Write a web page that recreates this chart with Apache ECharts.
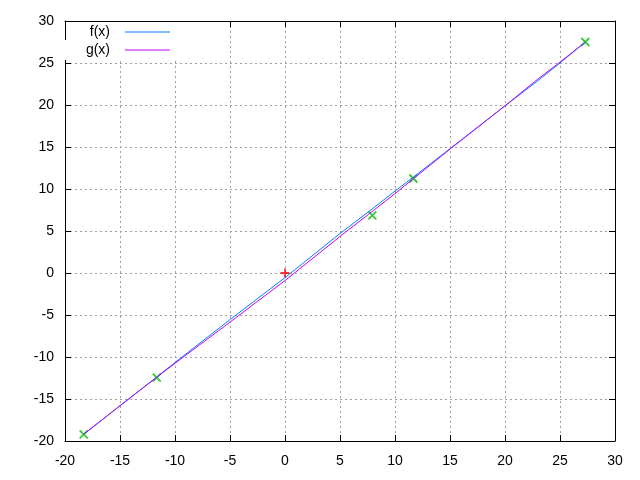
<!DOCTYPE html>
<html>
<head>
<meta charset="utf-8">
<script src="https://cdn.jsdelivr.net/npm/echarts@6/dist/echarts.min.js"></script>
<style>html,body{margin:0;padding:0;background:#fff}#c{width:640px;height:480px}</style>
</head>
<body>
<div id="c"></div>
<script>
const lineX = [-18.3, -15, -11.7, -10, -5, 0, 5, 8, 10, 11.7, 15, 20, 23, 25, 27.3];
const fVals = [-19.2, -15.8, -12.42, -10.65, -5.55, -0.55, 4.7, 7.7, 9.75, 11.45, 14.8, 19.9, 22.9, 25.0, 27.5];
const gVals = [-19.2, -15.8, -12.45, -10.75, -5.85, -0.9, 4.35, 7.4, 9.45, 11.25, 14.75, 19.9, 23.1, 25.1, 27.5];
const greenX = [-18.3, -11.66, 7.94, 11.67, 27.3];
const greenY = [-19.2, -12.46, 6.86, 11.25, 27.5];
const redX = [0];
const redY = [0];
const seriesNames = ['f(x)', 'g(x)'];
const axisMin = -20, axisMax = 30, axisStep = 5;

const FONT = 'Liberation Sans';
const zip = (a, b) => a.map((v, i) => [v, b[i]]);
const chart = echarts.init(document.getElementById('c'), null, {renderer: 'canvas'});

const gridLine = {show: true, lineStyle: {color: '#a0a0a0', type: [2, 3], width: 1}};
const axLine = {show: true, onZero: false, lineStyle: {color: '#000', width: 1}};
const tick = {show: true, inside: true, length: 6, lineStyle: {color: '#000'}};

function legendFor(name, top) {
  return {
    data: [{name: name, icon: 'rect'}], orient: 'vertical', align: 'right', right: 455, top: top,
    itemWidth: 45, itemHeight: 1, backgroundColor: '#fff',
    padding: [3, 15, 3, 22],
    textStyle: {fontFamily: FONT, fontSize: 14, color: '#000', padding: [0, 10, 0, 0]}
  };
}

chart.setOption({
  animation: false,
  grid: {left: 65, right: 25, top: 21, bottom: 39},
  legend: [legendFor(seriesNames[0], 22), legendFor(seriesNames[1], 40)],
  xAxis: [
    {type: 'value', min: axisMin, max: axisMax, interval: axisStep, position: 'bottom',
     axisLine: axLine, axisTick: tick, splitLine: gridLine,
     axisLabel: {fontFamily: FONT, fontSize: 14, color: '#000', margin: 13}},
    {type: 'value', min: axisMin, max: axisMax, interval: axisStep, position: 'top',
     axisLine: axLine, axisTick: tick, splitLine: {show: false}, axisLabel: {show: false}}
  ],
  yAxis: [
    {type: 'value', min: axisMin, max: axisMax, interval: axisStep, position: 'left',
     axisLine: axLine, axisTick: tick, splitLine: gridLine,
     axisLabel: {fontFamily: FONT, fontSize: 14, color: '#000', margin: 11}},
    {type: 'value', min: axisMin, max: axisMax, interval: axisStep, position: 'right',
     axisLine: axLine, axisTick: tick, splitLine: {show: false}, axisLabel: {show: false}}
  ],
  series: [
    {type: 'scatter', name: 'pts1', data: zip(redX, redY),
     symbol: 'path://M5,0L5,10M0,5L10,5', symbolSize: 9,
     itemStyle: {color: 'rgba(0,0,0,0)', borderColor: '#ff0000', borderWidth: 1.8}},
    {type: 'scatter', name: 'pts2', data: zip(greenX, greenY),
     symbol: 'path://M0,0L10,10M10,0L0,10', symbolSize: 8,
     itemStyle: {color: 'rgba(0,0,0,0)', borderColor: '#00c000', borderWidth: 1.8}},
    {type: 'line', name: seriesNames[0], data: zip(lineX, fVals), symbol: 'none',
     lineStyle: {color: '#0080ff', width: 1}, itemStyle: {color: '#0080ff'}},
    {type: 'line', name: seriesNames[1], data: zip(lineX, gVals), symbol: 'none',
     lineStyle: {color: '#c000ff', width: 1}, itemStyle: {color: '#c000ff'}}
  ]
});
</script>
</body>
</html>
